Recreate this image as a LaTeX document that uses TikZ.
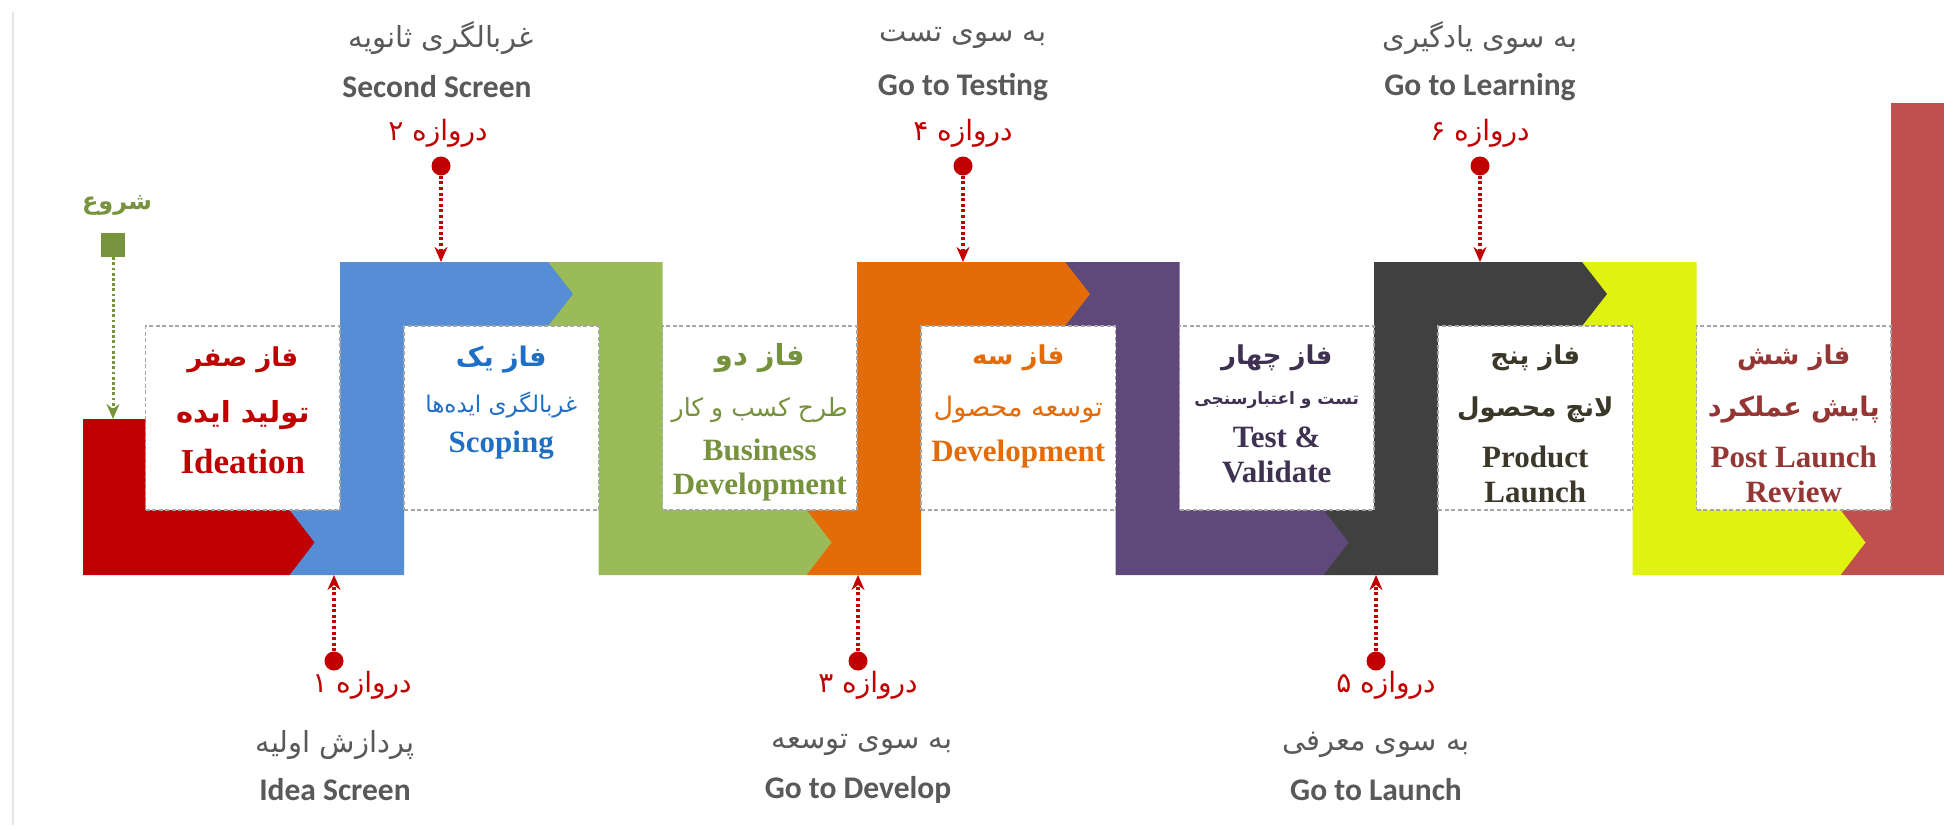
\documentclass[tikz,border=0pt]{standalone}
\usepackage{fontspec}
\setmainfont{Liberation Serif}
\newfontfamily\fa[Script=Arabic]{DejaVu Sans}
\newfontfamily\gatesans{Carlito}
\TeXXeTstate=1
\usetikzlibrary{arrows.meta}
\definecolor{redzero}{HTML}{C00000}
\definecolor{blueone}{HTML}{558ED5}
\definecolor{greentwo}{HTML}{9BBB59}
\definecolor{orangethree}{HTML}{E36C09}
\definecolor{purplefour}{HTML}{5F497A}
\definecolor{grayfive}{HTML}{404040}
\definecolor{yellowsix}{HTML}{E0F210}
\definecolor{bricksix}{HTML}{C0504D}
\definecolor{txtblue}{HTML}{1F6FC5}
\definecolor{txtgreen}{HTML}{76923C}
\definecolor{txtpurple}{HTML}{3F3151}
\definecolor{txtdark}{HTML}{3B3829}
\definecolor{txtbrick}{HTML}{943634}
\definecolor{startgreen}{HTML}{77933C}
\definecolor{gatetxt}{HTML}{595959}
\begin{document}
\begin{tikzpicture}[x=1pt,y=-1pt,>={Stealth[length=15pt,width=13pt,inset=5pt]},
    phasebox/.style={draw=black!35,dash pattern=on 4pt off 2.5pt,line width=1.1pt,fill=white,
      minimum width=194.5pt,minimum height=184pt,inner sep=0pt},
    ptitle/.style={font=\fa\bfseries\fontsize{26}{30}\selectfont,inner sep=0pt},
    psub/.style={font=\fa\fontsize{25}{29}\selectfont,inner sep=0pt},
    pname/.style={font=\bfseries\fontsize{31}{33}\selectfont,inner sep=0pt,anchor=base},
    gatedot/.style={circle,fill=redzero,minimum size=19pt,inner sep=0pt},
    gateline/.style={redzero,line width=3.2pt,dash pattern=on 3pt off 2.6pt,->},
    gatenum/.style={redzero,font=\fa\fontsize{28}{32}\selectfont,inner sep=0pt},
    gatefa/.style={gatetxt,font=\fa\fontsize{29}{33}\selectfont,inner sep=0pt},
    gateen/.style={gatetxt,font=\gatesans\bfseries\fontsize{31.5}{34}\selectfont,inner sep=0pt}]
    \fill[white] (0,0) rectangle (1944,825);
    \useasboundingbox (0,0) rectangle (1944,825);
    \draw[black!10,line width=1.5pt] (13,12) -- (13,825);

    \fill[bricksix] (1840.5,575) -- (1944,575) -- (1944,103) -- (1891,103) -- (1891,510) -- (1840.5,510) -- cycle;
    \fill[yellowsix] (1582,262) -- (1696.5,262) -- (1696.5,510) -- (1840.5,510) -- (1865.5,542.5) -- (1840.5,575) -- (1632.5,575) -- (1632.5,326) -- (1582,326) -- cycle;
    \fill[grayfive] (1323.5,575) -- (1438,575) -- (1438,326) -- (1582,326) -- (1607,294) -- (1582,262) -- (1374,262) -- (1374,510) -- (1323.5,510) -- cycle;
    \fill[purplefour] (1065,262) -- (1179.5,262) -- (1179.5,510) -- (1323.5,510) -- (1348.5,542.5) -- (1323.5,575) -- (1115.5,575) -- (1115.5,326) -- (1065,326) -- cycle;
    \fill[orangethree] (806.5,575) -- (921,575) -- (921,326) -- (1065,326) -- (1090,294) -- (1065,262) -- (857,262) -- (857,510) -- (806.5,510) -- cycle;
    \fill[greentwo] (548,262) -- (662.5,262) -- (662.5,510) -- (806.5,510) -- (831.5,542.5) -- (806.5,575) -- (598.5,575) -- (598.5,326) -- (548,326) -- cycle;
    \fill[blueone] (289.5,575) -- (404,575) -- (404,326) -- (548,326) -- (573,294) -- (548,262) -- (340,262) -- (340,510) -- (289.5,510) -- cycle;
    \fill[redzero] (83,419) -- (145.5,419) -- (145.5,510) -- (289.5,510) -- (314.5,542.5) -- (289.5,575) -- (83,575) -- cycle;

    \node[phasebox] (box0) at (242.75,418) {};
    \node[phasebox] (box1) at (501.25,418) {};
    \node[phasebox] (box2) at (759.75,418) {};
    \node[phasebox] (box3) at (1018.25,418) {};
    \node[phasebox] (box4) at (1276.75,418) {};
    \node[phasebox] (box5) at (1535.25,418) {};
    \node[phasebox] (box6) at (1793.75,418) {};

    \node[ptitle,redzero] (t0) at (242.75,360) {\beginR فاز صفر\endR};
    \node[ptitle,redzero,font=\fa\bfseries\fontsize{29}{33}\selectfont] (s0) at (242.75,415) {\beginR تولید ایده\endR};
    \node[pname,redzero,font=\bfseries\fontsize{35}{37}\selectfont] (e0) at (242.75,473) {Ideation};

    \node[ptitle,txtblue,font=\fa\bfseries\fontsize{27}{31}\selectfont] (t1) at (501.25,360) {\beginR فاز یک\endR};
    \node[psub,txtblue,font=\fa\fontsize{23}{27}\selectfont] (s1) at (501.25,405) {\beginR غربالگری ایده‌ها\endR};
    \node[pname,txtblue] (e1) at (501.25,452) {Scoping};

    \node[ptitle,txtgreen,font=\fa\bfseries\fontsize{29}{33}\selectfont] (t2) at (759.75,358) {\beginR فاز دو\endR};
    \node[psub,txtgreen] (s2) at (759.75,410) {\beginR طرح کسب و کار\endR};
    \node[pname,txtgreen] (e2a) at (759.75,460) {Business};
    \node[pname,txtgreen] (e2b) at (759.75,494) {Development};

    \node[ptitle,orangethree] (t3) at (1018.25,358) {\beginR فاز سه\endR};
    \node[psub,orangethree,font=\fa\fontsize{27}{31}\selectfont] (s3) at (1018.25,410) {\beginR توسعه محصول\endR};
    \node[pname,orangethree] (e3) at (1018.25,461) {Development};

    \node[ptitle,txtpurple] (t4) at (1276.75,358) {\beginR فاز چهار\endR};
    \node[ptitle,txtpurple,font=\fa\bfseries\fontsize{17}{20}\selectfont] (s4) at (1276.75,400) {\beginR تست و اعتبارسنجی\endR};
    \node[pname,txtpurple] (e4a) at (1276.75,447) {Test \&};
    \node[pname,txtpurple] (e4b) at (1276.75,482) {Validate};

    \node[ptitle,txtdark] (t5) at (1535.25,358) {\beginR فاز پنج\endR};
    \node[ptitle,txtdark] (s5) at (1535.25,410) {\beginR لانچ محصول\endR};
    \node[pname,txtdark] (e5a) at (1535.25,467) {Product};
    \node[pname,txtdark] (e5b) at (1535.25,502) {Launch};

    \node[ptitle,txtbrick] (t6) at (1793.75,358) {\beginR فاز شش\endR};
    \node[ptitle,txtbrick,font=\fa\bfseries\fontsize{27}{31}\selectfont] (s6) at (1793.75,410) {\beginR پایش عملکرد\endR};
    \node[pname,txtbrick] (e6a) at (1793.75,467) {Post Launch};
    \node[pname,txtbrick] (e6b) at (1793.75,502) {Review};

    \node[fill=startgreen,minimum size=24pt,inner sep=0pt] (start) at (113,245) {};
    \node[startgreen,font=\fa\bfseries\fontsize{24}{28}\selectfont,inner sep=0pt] (startlbl) at (117,205) {\beginR شروع\endR};
    \coordinate (startend) at (113,419);
    \draw[startgreen,line width=3pt,dash pattern=on 2.8pt off 2.4pt,->] (start) -- (startend);

    \node[gatedot] (g1) at (334,661) {};
    \coordinate (g1end) at (334,575);
    \draw[gateline] (g1) -- (g1end);
    \node[gatenum] (g1num) at (362,685) {\beginR دروازه ۱\endR};
    \node[gatefa] (g1fa) at (335,745) {\beginR پردازش اولیه\endR};
    \node[gateen] (g1en) at (335,790) {Idea Screen};

    \node[gatedot] (g2) at (441,166) {};
    \coordinate (g2end) at (441,262);
    \draw[gateline] (g2) -- (g2end);
    \node[gatenum] (g2num) at (438,133) {\beginR دروازه ۲\endR};
    \node[gatefa] (g2fa) at (441,38) {\beginR غربالگری ثانویه\endR};
    \node[gateen] (g2en) at (437,87) {Second Screen};

    \node[gatedot] (g3) at (858,661) {};
    \coordinate (g3end) at (858,575);
    \draw[gateline] (g3) -- (g3end);
    \node[gatenum] (g3num) at (868,685) {\beginR دروازه ۳\endR};
    \node[gatefa] (g3fa) at (862,745) {\beginR به سوی توسعه\endR};
    \node[gateen] (g3en) at (858,790) {Go to Develop};

    \node[gatedot] (g4) at (963,166) {};
    \coordinate (g4end) at (963,262);
    \draw[gateline] (g4) -- (g4end);
    \node[gatenum] (g4num) at (963,133) {\beginR دروازه ۴\endR};
    \node[gatefa] (g4fa) at (963,38) {\beginR به سوی تست\endR};
    \node[gateen] (g4en) at (963,87) {Go to Testing};

    \node[gatedot] (g5) at (1376,661) {};
    \coordinate (g5end) at (1376,575);
    \draw[gateline] (g5) -- (g5end);
    \node[gatenum] (g5num) at (1386,685) {\beginR دروازه ۵\endR};
    \node[gatefa] (g5fa) at (1376,745) {\beginR به سوی معرفی\endR};
    \node[gateen] (g5en) at (1376,790) {Go to Launch};

    \node[gatedot] (g6) at (1480,166) {};
    \coordinate (g6end) at (1480,262);
    \draw[gateline] (g6) -- (g6end);
    \node[gatenum] (g6num) at (1480,133) {\beginR دروازه ۶\endR};
    \node[gatefa] (g6fa) at (1480,38) {\beginR به سوی یادگیری\endR};
    \node[gateen] (g6en) at (1480,87) {Go to Learning};
\end{tikzpicture}
\end{document}
